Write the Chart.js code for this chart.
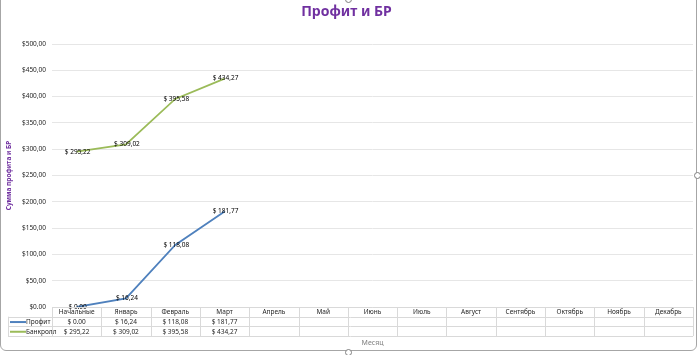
<!DOCTYPE html>
<html>
<head>
<meta charset="utf-8">
<script src="https://cdn.jsdelivr.net/npm/chart.js@4.4.1/dist/chart.umd.min.js"></script>
<style>
  html, body { margin: 0; padding: 0; background: #fff; overflow: hidden; }
  #wrap { position: relative; width: 700px; height: 355px; }
  #frame { position: absolute; left: 0; top: -6px; width: 697px; height: 357px; border: 1px solid #a6a6a6; border-radius: 6px; pointer-events: none; box-sizing: border-box; }
  .h { position: absolute; width: 5px; height: 5px; border: 1px solid #7f7f7f; border-radius: 50%; background: #fff; pointer-events: none; }
</style>
</head>
<body>
<div id="wrap">
  <canvas id="c" width="700" height="355"></canvas>
  <div id="frame"></div>
  <div class="h" style="left:345px; top:349px;"></div>
  <div class="h" style="left:694px; top:172px;"></div>
  <div class="h" style="left:345px; top:-4px;"></div>
</div>
<script>
const categories = ['Начальные','Январь','Февраль','Март','Апрель','Май','Июнь','Июль','Август','Сентябрь','Октябрь','Ноябрь','Декабрь'];
const seriesNames = ['Профит','Банкролл'];
const profit   = [0.00, 16.24, 118.08, 181.77, null, null, null, null, null, null, null, null, null];
const bankroll = [295.22, 309.02, 395.58, 434.27, null, null, null, null, null, null, null, null, null];
const seriesColors = ['#4f81bd', '#9bbb59'];
const yMin = 0, yMax = 500, yStep = 50;
const chartTitle = 'Профит и БР';
const yTitle = 'Сумма профита и БР';
const xTitle = 'Месяц';

const FONT = '"Noto Sans", "DejaVu Sans", sans-serif';

function money(v, space) {
  if (v === 0) return '$' + (space ? ' ' : '') + '0.00';
  return '$' + (space ? ' ' : '') + v.toFixed(2).replace('.', ',');
}

const labelPlugin = {
  id: 'pointLabels',
  afterDatasetsDraw(chart) {
    const ctx = chart.ctx;
    ctx.save();
    ctx.font = '6.5px ' + FONT;
    ctx.fillStyle = '#000';
    ctx.textAlign = 'center';
    ctx.textBaseline = 'middle';
    chart.data.datasets.forEach((ds, i) => {
      const meta = chart.getDatasetMeta(i);
      meta.data.forEach((pt, j) => {
        const v = ds.data[j];
        if (v === null || v === undefined) return;
        ctx.fillText(money(v, true), pt.x + 1, pt.y);
      });
    });
    ctx.restore();
  }
};

const tablePlugin = {
  id: 'dataTable',
  afterDraw(chart) {
    const ctx = chart.ctx;
    const xs = chart.scales.x;
    const n = categories.length;
    const colW = xs.getPixelForValue(1) - xs.getPixelForValue(0);
    const left = xs.getPixelForValue(0) - colW / 2;
    const right = xs.getPixelForValue(n - 1) + colW / 2;
    const top = chart.chartArea.bottom;
    const rowH = 9.7;
    const legLeft = 8;
    ctx.save();
    ctx.strokeStyle = '#d9d9d9';
    ctx.lineWidth = 1;
    ctx.beginPath();
    // horizontal lines
    ctx.moveTo(left, Math.round(top) + 0.5); ctx.lineTo(right, Math.round(top) + 0.5);
    for (let r = 1; r <= 3; r++) {
      const y = Math.round(top + r * rowH) + 0.5;
      ctx.moveTo(legLeft, y); ctx.lineTo(right, y);
    }
    // vertical lines
    for (let c = 0; c <= n; c++) {
      const x = Math.round(left + c * colW) + 0.5;
      ctx.moveTo(x, top); ctx.lineTo(x, top + 3 * rowH);
    }
    ctx.moveTo(legLeft + 0.5, top + rowH); ctx.lineTo(legLeft + 0.5, top + 3 * rowH);
    ctx.stroke();

    ctx.fillStyle = '#262626';
    ctx.font = '6.5px ' + FONT;
    ctx.textAlign = 'center';
    ctx.textBaseline = 'middle';
    categories.forEach((cat, i) => {
      ctx.fillText(cat, xs.getPixelForValue(i), top + rowH / 2 + 0.5);
    });
    const series = [profit, bankroll];
    series.forEach((arr, s) => {
      const yc = top + rowH * (s + 1) + rowH / 2 + 0.5;
      arr.forEach((v, i) => {
        if (v === null) return;
        ctx.fillText(money(v, true), xs.getPixelForValue(i), yc);
      });
      // legend key
      ctx.strokeStyle = seriesColors[s];
      ctx.lineWidth = 2;
      ctx.beginPath();
      ctx.moveTo(legLeft + 2, yc); ctx.lineTo(legLeft + 18, yc);
      ctx.stroke();
      ctx.textAlign = 'left';
      ctx.fillText(seriesNames[s], legLeft + 18, yc);
      ctx.textAlign = 'center';
    });
    ctx.restore();
  }
};

new Chart(document.getElementById('c'), {
  type: 'line',
  data: {
    labels: categories,
    datasets: [
      { label: seriesNames[0], data: profit, borderColor: seriesColors[0], backgroundColor: seriesColors[0], borderWidth: 1.8, pointRadius: 0, tension: 0, spanGaps: false },
      { label: seriesNames[1], data: bankroll, borderColor: seriesColors[1], backgroundColor: seriesColors[1], borderWidth: 1.8, pointRadius: 0, tension: 0, spanGaps: false }
    ]
  },
  options: {
    responsive: false,
    animation: false,
    devicePixelRatio: 1,
    layout: { padding: { left: 0, right: 7, top: 0, bottom: 0 } },
    plugins: {
      legend: { display: false },
      tooltip: { enabled: false },
      title: {
        display: true,
        text: chartTitle,
        color: '#7030a0',
        font: { family: FONT, size: 14, weight: 'bold', lineHeight: 1.2 },
        padding: { top: 4, bottom: 23.2 }
      }
    },
    scales: {
      x: {
        type: 'category',
        offset: true,
        grid: { display: false, drawTicks: false },
        border: { display: false },
        ticks: { display: false },
        title: { display: true, text: xTitle, color: '#7f7f7f', font: { family: FONT, size: 7 }, padding: { top: 0, bottom: 8 } },
        afterFit(scale) { scale.height = 48; }
      },
      y: {
        min: yMin, max: yMax,
        grid: { color: '#e6e6e6', lineWidth: 1, drawTicks: false },
        border: { display: false },
        ticks: {
          stepSize: yStep,
          padding: 6,
          color: '#262626',
          font: { family: FONT, size: 6.5 },
          callback: (v) => money(v, false)
        },
        title: { display: true, text: yTitle, color: '#7030a0', font: { family: FONT, size: 6.5, weight: 'bold' }, padding: { top: 5, bottom: 0 } },
        afterFit(scale) { scale.width = 52; }
      }
    }
  },
  plugins: [labelPlugin, tablePlugin]
});
</script>
</body>
</html>
